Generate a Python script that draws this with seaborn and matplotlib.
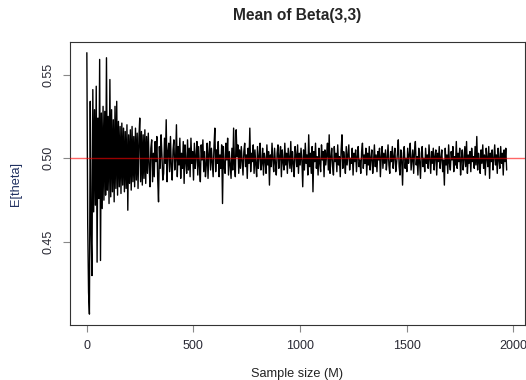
import numpy as np
import pandas as pd
import matplotlib
matplotlib.use("Agg")
import matplotlib.pyplot as plt
import seaborn as sns

# Sample sizes (M) at which the mean was recorded
sample_size = list(range(1, 1970, 4))

# Estimated mean of Beta(3,3)
mean_theta = [
    0.563, 0.461, 0.420, 0.407, 0.534, 0.455, 0.430, 0.541, 0.468, 0.529,
    0.472, 0.543, 0.438, 0.524, 0.476, 0.559, 0.439, 0.527, 0.470, 0.531,
    0.475, 0.528, 0.478, 0.560, 0.481, 0.525, 0.473, 0.547, 0.477, 0.529,
    0.480, 0.523, 0.474, 0.531, 0.482, 0.534, 0.478, 0.522, 0.483, 0.519,
    0.479, 0.521, 0.484, 0.518, 0.480, 0.516, 0.482, 0.520, 0.469, 0.514,
    0.485, 0.517, 0.481, 0.519, 0.486, 0.513, 0.483, 0.518, 0.487, 0.515,
    0.482, 0.512, 0.524, 0.486, 0.516, 0.484, 0.514, 0.488, 0.517, 0.485,
    0.513, 0.491, 0.515, 0.496, 0.483, 0.506, 0.511, 0.486, 0.503, 0.489,
    0.510, 0.498, 0.513, 0.488, 0.474, 0.507, 0.494, 0.514, 0.502, 0.487,
    0.491, 0.512, 0.497, 0.523, 0.486, 0.504, 0.509, 0.492, 0.513, 0.495,
    0.487, 0.505, 0.511, 0.493, 0.499, 0.520, 0.489, 0.507, 0.496, 0.512,
    0.488, 0.503, 0.494, 0.510, 0.485, 0.508, 0.498, 0.491, 0.511, 0.493,
    0.506, 0.489, 0.512, 0.497, 0.504, 0.487, 0.509, 0.494, 0.501, 0.510,
    0.490, 0.507, 0.495, 0.486, 0.508, 0.499, 0.511, 0.492, 0.504, 0.489,
    0.496, 0.509, 0.488, 0.503, 0.510, 0.493, 0.506, 0.497, 0.489, 0.507,
    0.518, 0.492, 0.505, 0.497, 0.510, 0.489, 0.502, 0.494, 0.508, 0.473,
    0.507, 0.495, 0.491, 0.509, 0.499, 0.512, 0.490, 0.504, 0.496, 0.488,
    0.506, 0.493, 0.518, 0.497, 0.489, 0.517, 0.501, 0.508, 0.491, 0.505,
    0.494, 0.507, 0.499, 0.490, 0.504, 0.509, 0.495, 0.502, 0.488, 0.506,
    0.497, 0.518, 0.492, 0.503, 0.498, 0.508, 0.491, 0.505, 0.496, 0.489,
    0.507, 0.494, 0.501, 0.509, 0.493, 0.497, 0.506, 0.490, 0.503, 0.499,
    0.491, 0.508, 0.496, 0.504, 0.484, 0.502, 0.495, 0.509, 0.499, 0.492,
    0.506, 0.497, 0.490, 0.503, 0.508, 0.494, 0.501, 0.507, 0.489, 0.505,
    0.498, 0.493, 0.509, 0.496, 0.503, 0.491, 0.506, 0.500, 0.494, 0.510,
    0.492, 0.504, 0.497, 0.489, 0.507, 0.502, 0.495, 0.508, 0.491, 0.503,
    0.496, 0.506, 0.499, 0.483, 0.505, 0.493, 0.509, 0.497, 0.502, 0.490,
    0.514, 0.495, 0.503, 0.491, 0.507, 0.480, 0.504, 0.498, 0.509, 0.494,
    0.501, 0.490, 0.506, 0.497, 0.492, 0.508, 0.499, 0.504, 0.489, 0.505,
    0.496, 0.502, 0.509, 0.493, 0.514, 0.491, 0.500, 0.506, 0.495, 0.490,
    0.507, 0.498, 0.503, 0.492, 0.508, 0.496, 0.501, 0.489, 0.505, 0.514,
    0.494, 0.504, 0.499, 0.491, 0.507, 0.496, 0.502, 0.508, 0.493, 0.500,
    0.497, 0.506, 0.490, 0.503, 0.498, 0.505, 0.492, 0.501, 0.507, 0.495,
    0.499, 0.491, 0.504, 0.509, 0.494, 0.502, 0.497, 0.506, 0.490, 0.503,
    0.496, 0.507, 0.493, 0.500, 0.505, 0.491, 0.498, 0.508, 0.495, 0.502,
    0.492, 0.504, 0.499, 0.506, 0.489, 0.501, 0.507, 0.494, 0.503, 0.497,
    0.505, 0.493, 0.500, 0.508, 0.496, 0.491, 0.504, 0.498, 0.507, 0.494,
    0.501, 0.506, 0.492, 0.497, 0.503, 0.511, 0.495, 0.490, 0.505, 0.499,
    0.484, 0.503, 0.507, 0.494, 0.500, 0.492, 0.506, 0.497, 0.502, 0.509,
    0.493, 0.499, 0.505, 0.491, 0.504, 0.510, 0.496, 0.501, 0.490, 0.506,
    0.498, 0.488, 0.503, 0.507, 0.495, 0.500, 0.492, 0.506, 0.497, 0.502,
    0.494, 0.508, 0.499, 0.491, 0.504, 0.497, 0.506, 0.493, 0.501, 0.505,
    0.490, 0.503, 0.498, 0.507, 0.494, 0.500, 0.505, 0.492, 0.499, 0.484,
    0.506, 0.496, 0.502, 0.491, 0.508, 0.497, 0.493, 0.504, 0.499, 0.507,
    0.492, 0.501, 0.496, 0.510, 0.494, 0.503, 0.498, 0.506, 0.490, 0.500,
    0.505, 0.493, 0.499, 0.507, 0.495, 0.510, 0.491, 0.502, 0.497, 0.504,
    0.492, 0.506, 0.498, 0.501, 0.494, 0.507, 0.496, 0.513, 0.493, 0.503,
    0.499, 0.491, 0.505, 0.497, 0.508, 0.494, 0.502, 0.490, 0.506, 0.500,
    0.495, 0.507, 0.488, 0.503, 0.498, 0.505, 0.493, 0.500, 0.508, 0.496,
    0.502, 0.491, 0.506, 0.499, 0.494, 0.507, 0.497, 0.503, 0.490, 0.505,
    0.498, 0.506, 0.493,
]

true_mean = 0.5
x_ticks = [0, 500, 1000, 1500, 2000]
y_ticks = [0.45, 0.50, 0.55]
y_tick_labels = ["0.45", "0.50", "0.55"]

df = pd.DataFrame({"M": sample_size, "mean": mean_theta})

sns.set_style("white")
plt.rcParams["font.family"] = ["Liberation Sans", "DejaVu Sans"]

fig = plt.figure(figsize=(5.26, 3.80), dpi=100)
ax = fig.add_axes([70 / 526, 1 - 325 / 380, 455 / 526, 283 / 380])

sns.lineplot(data=df, x="M", y="mean", ax=ax, color="black", linewidth=1.0,
             estimator=None, sort=False)
ax.axhline(true_mean, color="red", linewidth=1.0, alpha=0.6, zorder=5)

ax.set_xlim(-78, 2055)
ax.set_ylim(0.4005, 0.5694)
ax.set_xticks(x_ticks)
ax.set_xticklabels([str(t) for t in x_ticks])
ax.set_yticks(y_ticks)
ax.set_yticklabels(y_tick_labels, rotation=90, va="center")

ax.tick_params(axis="both", direction="out", length=5, width=0.8,
               color="#888888", labelsize=9, labelcolor="#2a2a35", pad=6,
               left=True, bottom=True)
for s in ax.spines.values():
    s.set_color("#333333")
    s.set_linewidth(0.8)

ax.set_xlabel("Sample size (M)", fontsize=9.2, color="#222222", labelpad=11)
ax.set_ylabel("E[theta]", fontsize=9.2, color="#203060", labelpad=15)
ax.set_title("Mean of Beta(3,3)", fontsize=11.2, fontweight="bold", pad=16)

fig.savefig("out.png", dpi=100)
